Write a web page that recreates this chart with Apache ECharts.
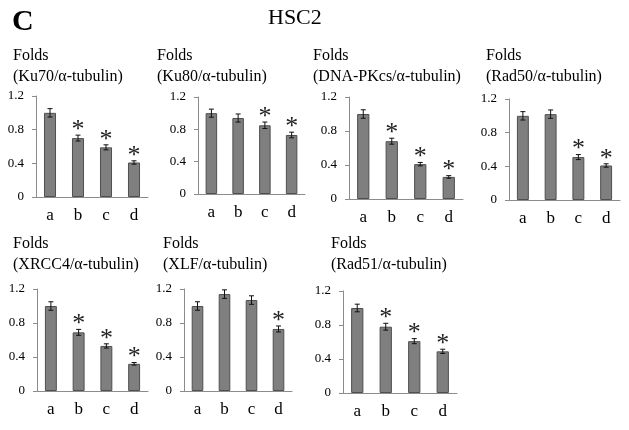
<!DOCTYPE html>
<html>
<head>
<meta charset="utf-8">
<script src="https://cdn.jsdelivr.net/npm/echarts@6/dist/echarts.min.js"></script>
<style>
  html, body { margin: 0; padding: 0; background: #fff; }
  #chart { width: 629px; height: 430px; }
</style>
</head>
<body>
<div id="chart"></div>
<script>
const categories = ['a', 'b', 'c', 'd'];

const ku70 = [1.0, 0.70, 0.59, 0.41];
const ku70Err = [0.05, 0.035, 0.03, 0.02];
const ku70Sig = [0, 1, 1, 1];

const ku80 = [1.0, 0.94, 0.85, 0.73];
const ku80Err = [0.05, 0.05, 0.04, 0.035];
const ku80Sig = [0, 0, 1, 1];

const dnapk = [1.0, 0.68, 0.41, 0.26];
const dnapkErr = [0.05, 0.035, 0.02, 0.015];
const dnapkSig = [0, 1, 1, 1];

const rad50 = [1.0, 1.02, 0.51, 0.41];
const rad50Err = [0.05, 0.05, 0.03, 0.02];
const rad50Sig = [0, 0, 1, 1];

const xrcc4 = [1.0, 0.69, 0.53, 0.32];
const xrcc4Err = [0.05, 0.035, 0.025, 0.015];
const xrcc4Sig = [0, 1, 1, 1];

const xlf = [1.0, 1.14, 1.07, 0.73];
const xlfErr = [0.05, 0.05, 0.05, 0.035];
const xlfSig = [0, 0, 0, 1];

const rad51 = [1.0, 0.78, 0.61, 0.49];
const rad51Err = [0.045, 0.04, 0.03, 0.025];
const rad51Sig = [0, 1, 1, 1];

const titles = ['(Ku70/α-tubulin)', '(Ku80/α-tubulin)', '(DNA-PKcs/α-tubulin)', '(Rad50/α-tubulin)',
  '(XRCC4/α-tubulin)', '(XLF/α-tubulin)', '(Rad51/α-tubulin)'];

// grid: [axis x, right end x, y of 1.2, y of 0]; title: [left, top]
const panels = [
  { vals: ku70, err: ku70Err, sig: ku70Sig, grid: [36, 148, 96, 197], title: [13, 45] },
  { vals: ku80, err: ku80Err, sig: ku80Sig, grid: [198, 305, 97, 194], title: [157, 45] },
  { vals: dnapk, err: dnapkErr, sig: dnapkSig, grid: [349, 463, 97, 199], title: [313, 45] },
  { vals: rad50, err: rad50Err, sig: rad50Sig, grid: [509, 620, 99, 200], title: [486, 45] },
  { vals: xrcc4, err: xrcc4Err, sig: xrcc4Sig, grid: [37, 148, 289, 391], title: [13, 233] },
  { vals: xlf, err: xlfErr, sig: xlfSig, grid: [184, 292, 289, 391], title: [163, 233] },
  { vals: rad51, err: rad51Err, sig: rad51Sig, grid: [343, 457, 291, 393], title: [331, 233] },
];

const serif = 'Liberation Serif';
const axisColor = '#8c8c8c';

const chart = echarts.init(document.getElementById('chart'));

const grids = [], xAxes = [], yAxes = [], series = [], titleOpts = [];

panels.forEach((p, i) => {
  const [x0, x1, yTop, yZero] = p.grid;
  grids.push({ left: x0, width: x1 - x0, top: yTop, height: yZero - yTop });
  xAxes.push({
    type: 'category', gridIndex: i, data: categories,
    axisLine: { lineStyle: { color: axisColor } },
    axisTick: { length: 4, lineStyle: { color: axisColor } },
    axisLabel: { color: '#000', fontFamily: serif, fontSize: 17, margin: 10 },
  });
  yAxes.push({
    type: 'value', gridIndex: i, min: 0, max: 1.2, interval: 0.4,
    axisLine: { show: true, lineStyle: { color: axisColor } },
    axisTick: { show: true, length: 4, lineStyle: { color: axisColor } },
    splitLine: { show: false },
    axisLabel: { color: '#000', fontFamily: serif, fontSize: 13, margin: 12 },
  });
  series.push({
    type: 'bar', xAxisIndex: i, yAxisIndex: i, data: p.vals, barWidth: '43%',
    itemStyle: { color: '#7f7f7f', borderColor: '#4f4f4f', borderWidth: 1 },
    silent: true,
  });
  series.push({
    type: 'custom', xAxisIndex: i, yAxisIndex: i, z: 5, silent: true,
    data: categories.map((c, k) => [k, p.vals[k], p.err[k], p.sig[k]]),
    renderItem: (params, api) => {
      const k = api.value(0), v = api.value(1), e = api.value(2), s = api.value(3);
      const hi = api.coord([k, v + e]);
      const lo = api.coord([k, v - e]);
      const cx = hi[0], cap = 2.5;
      const st = { stroke: '#111', lineWidth: 1 };
      const kids = [
        { type: 'line', shape: { x1: cx, y1: hi[1], x2: cx, y2: lo[1] }, style: st },
        { type: 'line', shape: { x1: cx - cap, y1: hi[1], x2: cx + cap, y2: hi[1] }, style: st },
        { type: 'line', shape: { x1: cx - cap, y1: lo[1], x2: cx + cap, y2: lo[1] }, style: st },
      ];
      if (s) {
        kids.push({
          type: 'text',
          style: { text: '*', x: cx, y: hi[1] - 5, align: 'center', verticalAlign: 'middle',
            font: '26px "Liberation Serif"', fill: '#222' },
        });
      }
      return { type: 'group', children: kids };
    },
  });
  titleOpts.push({
    text: 'Folds\n' + titles[i], left: p.title[0], top: p.title[1], padding: 0,
    textStyle: { fontFamily: serif, fontSize: 16, fontWeight: 'normal', color: '#000', lineHeight: 21 },
  });
});

titleOpts.push({
  text: 'C', left: 12, top: 7, padding: 0,
  textStyle: { fontFamily: serif, fontSize: 30, fontWeight: 'bold', color: '#000' },
});
titleOpts.push({
  text: 'HSC2', left: 268, top: 7, padding: 0,
  textStyle: { fontFamily: serif, fontSize: 22, fontWeight: 'normal', color: '#000' },
});

chart.setOption({
  animation: false,
  backgroundColor: '#fff',
  title: titleOpts,
  grid: grids,
  xAxis: xAxes,
  yAxis: yAxes,
  series: series,
});
</script>
</body>
</html>
